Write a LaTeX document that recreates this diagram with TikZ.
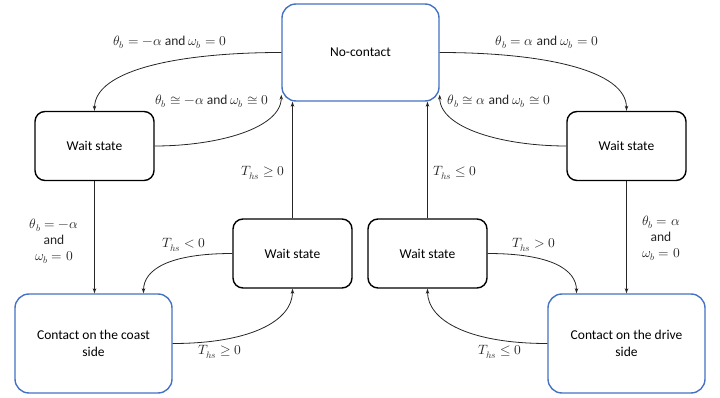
\documentclass[tikz,border=0pt]{standalone}
\usepackage{fontspec}
\usepackage{unicode-math}
\setmainfont{Carlito}
\usetikzlibrary{arrows.meta,calc}
\definecolor{boxblue}{RGB}{68,114,196}
\definecolor{ink}{RGB}{38,38,38}
\tikzset{
  bluebox/.style={draw=boxblue,line width=1.4pt,rounded corners=14pt,minimum width=157pt,minimum height=97pt,align=center,text=black,font=\fontsize{13.5}{17}\selectfont},
  waitbox/.style={draw=black,line width=1.4pt,rounded corners=10pt,minimum width=119pt,minimum height=69pt,text=black,font=\fontsize{13.5}{17}\selectfont},
  conn/.style={draw=ink,line width=0.8pt,-{Stealth[length=5pt,width=3.5pt]}},
  lab/.style={text=ink,inner sep=0pt,align=center,font=\fontsize{13.5}{16}\selectfont}
}
\begin{document}
\begin{tikzpicture}[x=1pt,y=-1pt]
\useasboundingbox (0,0) rectangle (720,398);
% states
\node[bluebox] (nc) at (360.5,52.5) {No-contact};
\node[waitbox] (wl) at (94.5,146) {Wait state};
\node[waitbox] (wr) at (626.5,146) {Wait state};
\node[waitbox] (ml) at (292.5,253.5) {Wait state};
\node[waitbox] (mr) at (427.5,253.5) {Wait state};
\node[bluebox,minimum height=99pt] (cc) at (93.5,343.5) {Contact on the coast\\side};
\node[bluebox,minimum height=99pt] (cd) at (626.5,343.5) {Contact on the drive\\side};
% end points on box borders
\coordinate (ncl) at ([yshift=7pt]nc.south west);
\coordinate (ncr) at ([yshift=7pt]nc.south east);
\coordinate (ccn) at ([xshift=50pt]cc.north);
\coordinate (cdn) at ([xshift=-50pt]cd.north);
% connectors
\draw[conn] (nc.west) .. controls +(-102,0) and +(0,-41) .. (wl.north);
\draw[conn] (wl.east) .. controls +(62,0) and +(0,34) .. (ncl);
\draw[conn] (nc.east) .. controls +(102,0) and +(0,-41) .. (wr.north);
\draw[conn] (wr.west) .. controls +(-62,0) and +(0,34) .. (ncr);
\draw[conn] (wl.south) -- (wl.south |- cc.north);
\draw[conn] (wr.south) -- (wr.south |- cd.north);
\draw[conn] (ml.north) -- (ml.north |- nc.south);
\draw[conn] (mr.north) -- (mr.north |- nc.south);
\draw[conn] (ml.west) .. controls +(-63,0) and +(0,-24) .. (ccn);
\draw[conn] (cc.east) .. controls +(78,0) and +(0,32) .. (ml.south);
\draw[conn] (mr.east) .. controls +(63,0) and +(0,-24) .. (cdn);
\draw[conn] (cd.west) .. controls +(-78,0) and +(0,32) .. (mr.south);
% labels
\node[lab] (l1) at (170,42) {$\theta_b=-\alpha$ and $\omega_b=0$};
\node[lab] (l2) at (212,101) {$\theta_b ≅ -\alpha$ and $\omega_b ≅ 0$};
\node[lab] (l3) at (547,42) {$\theta_b=\alpha$ and $\omega_b=0$};
\node[lab] (l4) at (499,101) {$\theta_b ≅ \alpha$ and $\omega_b ≅ 0$};
\node[lab] (l5) at (54,241) {$\theta_b=-\alpha$\\and\\$\omega_b=0$};
\node[lab] (l6) at (661,238) {$\theta_b=\alpha$\\and\\$\omega_b=0$};
\node[lab] (l7) at (263,173) {$T_{hs}\geq0$};
\node[lab] (l8) at (455,173) {$T_{hs}\leq0$};
\node[lab] (l9) at (184,245) {$T_{hs}<0$};
\node[lab] (l10) at (220,352) {$T_{hs}\geq0$};
\node[lab] (l11) at (534,245) {$T_{hs}>0$};
\node[lab] (l12) at (500,352) {$T_{hs}\leq0$};
\end{tikzpicture}
\end{document}
